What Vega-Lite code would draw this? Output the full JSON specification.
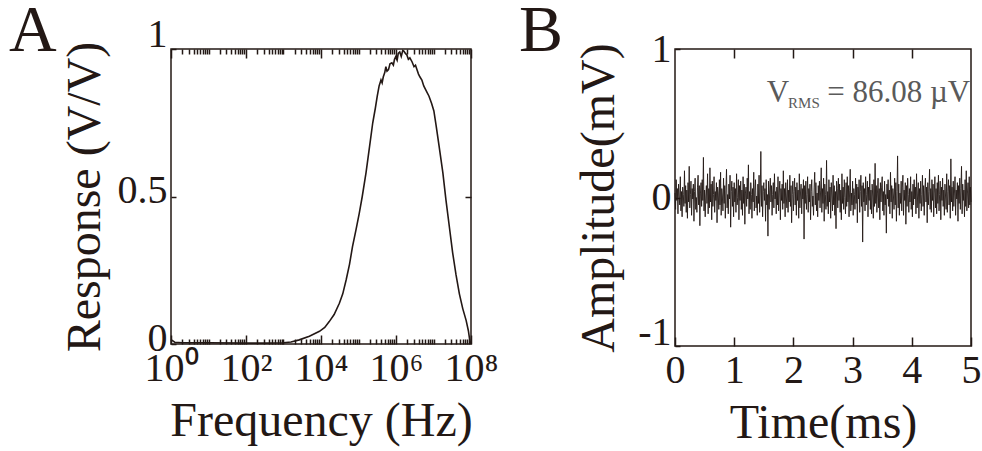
{
"$schema": "https://vega.github.io/schema/vega-lite/v6.json",
"padding": {"left": 8, "top": -3, "right": 0, "bottom": 0},
"background": "white",
"spacing": 19,
"config": {
  "font": "Liberation Serif",
  "view": {"stroke": "#231815", "strokeWidth": 1.5},
  "axis": {"domain": false, "grid": false, "labelFont": "Liberation Serif", "labelFontSize": 40, "labelColor": "#231815", "titleFont": "Liberation Serif", "titleFontSize": 48, "titleFontWeight": "normal", "titleColor": "#231815", "tickColor": "#231815", "tickWidth": 1.5, "labelFlush": false, "labelOverlap": false},
  "title": {"font": "Liberation Serif", "fontSize": 66, "fontWeight": "normal", "color": "#231815"}
},
"hconcat": [
{
  "width": 300, "height": 295,
  "title": {"text": "A", "anchor": "start", "frame": "group", "dx": -162, "offset": -103, "baseline": "alphabetic"},
  "data": {"values": [
    {"f":1,"r":0.015},{"f":1.259,"r":0.006},{"f":1.995,"r":0.004},{"f":10,"r":0.004},{"f":100,"r":0.003},{"f":316,"r":0.003},{"f":1000,"r":0.004},{"f":1585,"r":0.007},{"f":2630,"r":0.014},{"f":4898,"r":0.026},{"f":9120,"r":0.043},{"f":12589,"r":0.056},{"f":16596,"r":0.076},{"f":22387,"r":0.1},{"f":30903,"r":0.138},{"f":38019,"r":0.17},{"f":46774,"r":0.217},{"f":57544,"r":0.27},{"f":69183,"r":0.33},{"f":85114,"r":0.385},{"f":104713,"r":0.443},{"f":125893,"r":0.5},{"f":158489,"r":0.58},{"f":194984,"r":0.665},{"f":239883,"r":0.75},{"f":281838,"r":0.8},{"f":316228,"r":0.84},{"f":354813,"r":0.875},{"f":398107,"r":0.895},{"f":426580,"r":0.885},{"f":457088,"r":0.905},{"f":501187,"r":0.92},{"f":537032,"r":0.94},{"f":575440,"r":0.925},{"f":630957,"r":0.93},{"f":691831,"r":0.95},{"f":776247,"r":0.953},{"f":851138,"r":0.945},{"f":912011,"r":0.965},{"f":977237,"r":0.973},{"f":1071519,"r":0.962},{"f":1148154,"r":0.985},{"f":1258925,"r":0.99},{"f":1380384,"r":0.975},{"f":1513561,"r":0.995},{"f":1621810,"r":0.993},{"f":1778279,"r":0.985},{"f":1949845,"r":0.98},{"f":2137962,"r":0.965},{"f":2344229,"r":0.97},{"f":2691535,"r":0.956},{"f":3019952,"r":0.94},{"f":3311311,"r":0.945},{"f":3630781,"r":0.93},{"f":3981072,"r":0.915},{"f":4365158,"r":0.905},{"f":4897788,"r":0.895},{"f":5495409,"r":0.875},{"f":6309573,"r":0.86},{"f":7585776,"r":0.84},{"f":8912509,"r":0.815},{"f":10232930,"r":0.79},{"f":11748976,"r":0.74},{"f":14125375,"r":0.67},{"f":17782794,"r":0.58},{"f":21379621,"r":0.49},{"f":26302680,"r":0.4},{"f":32359366,"r":0.31},{"f":39810717,"r":0.235},{"f":48977882,"r":0.17},{"f":60255959,"r":0.12},{"f":74131024,"r":0.08},{"f":85113804,"r":0.045},{"f":93325430,"r":0.01},{"f":100000000,"r":0}
  ]},
  "resolve": {"axis": {"x": "independent", "y": "independent"}},
  "layer": [
    {"mark": {"type": "line", "color": "#231815", "strokeWidth": 1.6},
     "encoding": {
       "x": {"field": "f", "type": "quantitative", "scale": {"type": "log", "domain": [1, 100000000], "nice": false},
             "axis": {"orient": "bottom", "values": [1, 100, 10000, 1000000, 100000000], "tickSize": -9, "labelPadding": 13,
                      "labelExpr": "datum.value == 1 ? '10⁰' : datum.value == 100 ? '10²' : datum.value == 10000 ? '10⁴' : datum.value == 1000000 ? '10⁶' : '10⁸'",
                      "title": "Frequency (Hz)", "titlePadding": 9}},
       "y": {"field": "r", "type": "quantitative", "scale": {"domain": [0, 1], "nice": false},
             "axis": {"orient": "left", "values": [0, 0.5, 1], "labelExpr": "'' + datum.value", "tickSize": -5, "labelPadding": 9,
                      "labelOffset": {"condition": {"test": "datum.value == 1", "value": -15}, "value": -6},
                      "title": "Response (V/V)", "titlePadding": 8}}
     }},
    {"mark": {"type": "line", "opacity": 0},
     "encoding": {
       "x": {"field": "f", "type": "quantitative",
             "axis": {"orient": "bottom", "values": [2,3,4,5,6,7,8,9,10,20,30,40,50,60,70,80,90,200,300,400,500,600,700,800,900,1000,2000,3000,4000,5000,6000,7000,8000,9000,20000,30000,40000,50000,60000,70000,80000,90000,100000,200000,300000,400000,500000,600000,700000,800000,900000,2000000,3000000,4000000,5000000,6000000,7000000,8000000,9000000,10000000,20000000,30000000,40000000,50000000,60000000,70000000,80000000,90000000], "tickSize": -5, "labels": false, "title": null}},
       "y": {"field": "r", "type": "quantitative",
             "axis": {"orient": "right", "values": [0.5], "tickSize": -6, "labels": false, "title": null}}
     }},
    {"mark": {"type": "line", "opacity": 0},
     "encoding": {
       "x": {"field": "f", "type": "quantitative",
             "axis": {"orient": "top", "values": [1, 100, 10000, 1000000, 100000000], "tickSize": -9, "labels": false, "title": null}},
       "y": {"field": "r", "type": "quantitative", "axis": null}
     }},
    {"mark": {"type": "line", "opacity": 0},
     "encoding": {
       "x": {"field": "f", "type": "quantitative",
             "axis": {"orient": "top", "values": [2,3,4,5,6,7,8,9,10,20,30,40,50,60,70,80,90,200,300,400,500,600,700,800,900,1000,2000,3000,4000,5000,6000,7000,8000,9000,20000,30000,40000,50000,60000,70000,80000,90000,100000,200000,300000,400000,500000,600000,700000,800000,900000,2000000,3000000,4000000,5000000,6000000,7000000,8000000,9000000,10000000,20000000,30000000,40000000,50000000,60000000,70000000,80000000,90000000], "tickSize": -5, "labels": false, "title": null}},
       "y": {"field": "r", "type": "quantitative", "axis": null}
     }}
  ]
},
{
  "width": 296, "height": 297,
  "title": {"text": "B", "anchor": "start", "frame": "group", "dx": -156, "offset": -88, "baseline": "alphabetic"},
  "data": {"values": [
{"t":0,"v":0.03},{"t":0.01,"v":-0.08},{"t":0.02,"v":0.12},{"t":0.03,"v":-0.02},{"t":0.04,"v":0.06},{"t":0.05,"v":-0.11},{"t":0.06,"v":0.09},{"t":0.07,"v":0.01},{"t":0.08,"v":-0.05},{"t":0.09,"v":0.14},{"t":0.1,"v":-0.09},{"t":0.11,"v":0.04},{"t":0.12,"v":-0.13},{"t":0.13,"v":0.07},{"t":0.14,"v":0.02},{"t":0.15,"v":-0.06},{"t":0.16,"v":0.18},{"t":0.17,"v":-0.04},{"t":0.18,"v":0.08},{"t":0.19,"v":-0.1},
{"t":0.2,"v":0.05},{"t":0.21,"v":-0.14},{"t":0.22,"v":0.1},{"t":0.23,"v":-0.03},{"t":0.24,"v":0.21},{"t":0.25,"v":-0.07},{"t":0.26,"v":0.02},{"t":0.27,"v":0.11},{"t":0.28,"v":-0.12},{"t":0.29,"v":0.06},{"t":0.3,"v":-0.01},{"t":0.31,"v":0.09},{"t":0.32,"v":-0.16},{"t":0.33,"v":0.04},{"t":0.34,"v":0.13},{"t":0.35,"v":-0.08},{"t":0.36,"v":0},{"t":0.37,"v":-0.1},{"t":0.38,"v":0.07},{"t":0.39,"v":0.15},
{"t":0.4,"v":-0.05},{"t":0.41,"v":0.08},{"t":0.42,"v":-0.19},{"t":0.43,"v":0.03},{"t":0.44,"v":0.1},{"t":0.45,"v":-0.06},{"t":0.46,"v":0.12},{"t":0.47,"v":-0.02},{"t":0.48,"v":0.27},{"t":0.49,"v":-0.09},{"t":0.5,"v":0.05},{"t":0.51,"v":-0.13},{"t":0.52,"v":0.01},{"t":0.53,"v":0.08},{"t":0.54,"v":-0.04},{"t":0.55,"v":0.16},{"t":0.56,"v":-0.11},{"t":0.57,"v":0.06},{"t":0.58,"v":-0.07},{"t":0.59,"v":0.2},
{"t":0.6,"v":-0.03},{"t":0.61,"v":0.09},{"t":0.62,"v":-0.15},{"t":0.63,"v":0.11},{"t":0.64,"v":-0.06},{"t":0.65,"v":0.02},{"t":0.66,"v":0.14},{"t":0.67,"v":-0.1},{"t":0.68,"v":0.04},{"t":0.69,"v":-0.02},{"t":0.7,"v":0.1},{"t":0.71,"v":-0.17},{"t":0.72,"v":0.07},{"t":0.73,"v":0.03},{"t":0.74,"v":-0.08},{"t":0.75,"v":0.12},{"t":0.76,"v":-0.05},{"t":0.77,"v":0.17},{"t":0.78,"v":-0.12},{"t":0.79,"v":0.06},
{"t":0.8,"v":0.01},{"t":0.81,"v":-0.09},{"t":0.82,"v":0.13},{"t":0.83,"v":-0.04},{"t":0.84,"v":0.08},{"t":0.85,"v":-0.14},{"t":0.86,"v":0.05},{"t":0.87,"v":0.19},{"t":0.88,"v":-0.07},{"t":0.89,"v":0.02},{"t":0.9,"v":-0.11},{"t":0.91,"v":0.09},{"t":0.92,"v":-0.01},{"t":0.93,"v":0.15},{"t":0.94,"v":-0.2},{"t":0.95,"v":0.04},{"t":0.96,"v":0.11},{"t":0.97,"v":-0.06},{"t":0.98,"v":0.07},{"t":0.99,"v":-0.13},
{"t":1,"v":0.1},{"t":1.01,"v":-0.03},{"t":1.02,"v":0.06},{"t":1.03,"v":-0.1},{"t":1.04,"v":0.16},{"t":1.05,"v":-0.05},{"t":1.06,"v":0},{"t":1.07,"v":0.12},{"t":1.08,"v":-0.15},{"t":1.09,"v":0.08},{"t":1.1,"v":-0.02},{"t":1.11,"v":0.11},{"t":1.12,"v":-0.08},{"t":1.13,"v":0.05},{"t":1.14,"v":-0.12},{"t":1.15,"v":0.14},{"t":1.16,"v":-0.04},{"t":1.17,"v":0.09},{"t":1.18,"v":-0.18},{"t":1.19,"v":0.03},
{"t":1.2,"v":0.07},{"t":1.21,"v":-0.06},{"t":1.22,"v":0.13},{"t":1.23,"v":-0.01},{"t":1.24,"v":0.22},{"t":1.25,"v":-0.11},{"t":1.26,"v":0.04},{"t":1.27,"v":-0.08},{"t":1.28,"v":0.1},{"t":1.29,"v":0.02},{"t":1.3,"v":-0.14},{"t":1.31,"v":0.06},{"t":1.32,"v":-0.03},{"t":1.33,"v":0.17},{"t":1.34,"v":-0.09},{"t":1.35,"v":0.05},{"t":1.36,"v":0.12},{"t":1.37,"v":-0.07},{"t":1.38,"v":0.01},{"t":1.39,"v":-0.12},
{"t":1.4,"v":0.09},{"t":1.41,"v":-0.04},{"t":1.42,"v":0.15},{"t":1.43,"v":-0.1},{"t":1.44,"v":0.03},{"t":1.45,"v":0.31},{"t":1.46,"v":-0.06},{"t":1.47,"v":0.08},{"t":1.48,"v":-0.13},{"t":1.49,"v":0.04},{"t":1.5,"v":0.1},{"t":1.51,"v":-0.02},{"t":1.52,"v":0.06},{"t":1.53,"v":-0.16},{"t":1.54,"v":0.12},{"t":1.55,"v":-0.05},{"t":1.56,"v":0.02},{"t":1.57,"v":-0.26},{"t":1.58,"v":0.11},{"t":1.59,"v":-0.08},
{"t":1.6,"v":0.05},{"t":1.61,"v":0.13},{"t":1.62,"v":-0.03},{"t":1.63,"v":0.08},{"t":1.64,"v":-0.12},{"t":1.65,"v":0.02},{"t":1.66,"v":0.1},{"t":1.67,"v":-0.07},{"t":1.68,"v":0.16},{"t":1.69,"v":-0.01},{"t":1.7,"v":0.04},{"t":1.71,"v":-0.11},{"t":1.72,"v":0.07},{"t":1.73,"v":-0.05},{"t":1.74,"v":0.14},{"t":1.75,"v":-0.09},{"t":1.76,"v":0.03},{"t":1.77,"v":0.11},{"t":1.78,"v":-0.15},{"t":1.79,"v":0.06},
{"t":1.8,"v":-0.02},{"t":1.81,"v":0.09},{"t":1.82,"v":-0.08},{"t":1.83,"v":0.18},{"t":1.84,"v":-0.04},{"t":1.85,"v":0.06},{"t":1.86,"v":-0.13},{"t":1.87,"v":0.1},{"t":1.88,"v":0.01},{"t":1.89,"v":-0.07},{"t":1.9,"v":0.12},{"t":1.91,"v":-0.1},{"t":1.92,"v":0.05},{"t":1.93,"v":-0.03},{"t":1.94,"v":0.15},{"t":1.95,"v":-0.06},{"t":1.96,"v":0.08},{"t":1.97,"v":-0.17},{"t":1.98,"v":0.02},{"t":1.99,"v":0.11},
{"t":2,"v":-0.09},{"t":2.01,"v":0.04},{"t":2.02,"v":0.13},{"t":2.03,"v":-0.05},{"t":2.04,"v":0.07},{"t":2.05,"v":-0.12},{"t":2.06,"v":0.1},{"t":2.07,"v":-0.02},{"t":2.08,"v":0.05},{"t":2.09,"v":-0.14},{"t":2.1,"v":0.16},{"t":2.11,"v":-0.07},{"t":2.12,"v":0.03},{"t":2.13,"v":0.09},{"t":2.14,"v":-0.11},{"t":2.15,"v":0.06},{"t":2.16,"v":-0.01},{"t":2.17,"v":0.12},{"t":2.18,"v":-0.28},{"t":2.19,"v":0.08},
{"t":2.2,"v":-0.04},{"t":2.21,"v":0.11},{"t":2.22,"v":-0.08},{"t":2.23,"v":0.02},{"t":2.24,"v":0.14},{"t":2.25,"v":-0.1},{"t":2.26,"v":0.06},{"t":2.27,"v":-0.03},{"t":2.28,"v":0.09},{"t":2.29,"v":-0.15},{"t":2.3,"v":0.04},{"t":2.31,"v":0.12},{"t":2.32,"v":-0.06},{"t":2.33,"v":0.01},{"t":2.34,"v":-0.12},{"t":2.35,"v":0.07},{"t":2.36,"v":0.17},{"t":2.37,"v":-0.05},{"t":2.38,"v":0.1},{"t":2.39,"v":-0.09},
{"t":2.4,"v":0.03},{"t":2.41,"v":-0.13},{"t":2.42,"v":0.08},{"t":2.43,"v":-0.02},{"t":2.44,"v":0.11},{"t":2.45,"v":-0.07},{"t":2.46,"v":0.05},{"t":2.47,"v":0.2},{"t":2.48,"v":-0.1},{"t":2.49,"v":0.06},{"t":2.5,"v":-0.04},{"t":2.51,"v":0.13},{"t":2.52,"v":-0.16},{"t":2.53,"v":0.09},{"t":2.54,"v":0.02},{"t":2.55,"v":-0.08},{"t":2.56,"v":0.25},{"t":2.57,"v":-0.06},{"t":2.58,"v":0.04},{"t":2.59,"v":-0.11},
{"t":2.6,"v":0.12},{"t":2.61,"v":-0.03},{"t":2.62,"v":0.07},{"t":2.63,"v":-0.14},{"t":2.64,"v":0.1},{"t":2.65,"v":0.01},{"t":2.66,"v":-0.09},{"t":2.67,"v":0.15},{"t":2.68,"v":-0.05},{"t":2.69,"v":0.08},{"t":2.7,"v":-0.12},{"t":2.71,"v":0.04},{"t":2.72,"v":-0.21},{"t":2.73,"v":0.11},{"t":2.74,"v":0.06},{"t":2.75,"v":-0.07},{"t":2.76,"v":0.13},{"t":2.77,"v":-0.02},{"t":2.78,"v":0.09},{"t":2.79,"v":-0.1},
{"t":2.8,"v":0.05},{"t":2.81,"v":-0.15},{"t":2.82,"v":0.16},{"t":2.83,"v":-0.04},{"t":2.84,"v":0.07},{"t":2.85,"v":-0.08},{"t":2.86,"v":0.12},{"t":2.87,"v":0},{"t":2.88,"v":-0.11},{"t":2.89,"v":0.1},{"t":2.9,"v":-0.06},{"t":2.91,"v":0.14},{"t":2.92,"v":-0.03},{"t":2.93,"v":0.08},{"t":2.94,"v":-0.13},{"t":2.95,"v":0.05},{"t":2.96,"v":0.19},{"t":2.97,"v":-0.09},{"t":2.98,"v":0.03},{"t":2.99,"v":-0.05},
{"t":3,"v":0.11},{"t":3.01,"v":-0.12},{"t":3.02,"v":0.06},{"t":3.03,"v":0.02},{"t":3.04,"v":-0.08},{"t":3.05,"v":0.13},{"t":3.06,"v":-0.04},{"t":3.07,"v":0.09},{"t":3.08,"v":-0.17},{"t":3.09,"v":0.07},{"t":3.1,"v":-0.01},{"t":3.11,"v":0.12},{"t":3.12,"v":-0.1},{"t":3.13,"v":0.04},{"t":3.14,"v":0.15},{"t":3.15,"v":-0.06},{"t":3.16,"v":0.08},{"t":3.17,"v":-0.3},{"t":3.18,"v":0.1},{"t":3.19,"v":-0.03},
{"t":3.2,"v":0.06},{"t":3.21,"v":-0.09},{"t":3.22,"v":0.14},{"t":3.23,"v":-0.05},{"t":3.24,"v":0.02},{"t":3.25,"v":0.11},{"t":3.26,"v":-0.13},{"t":3.27,"v":0.07},{"t":3.28,"v":-0.02},{"t":3.29,"v":0.16},{"t":3.3,"v":-0.08},{"t":3.31,"v":0.05},{"t":3.32,"v":-0.11},{"t":3.33,"v":0.09},{"t":3.34,"v":0.01},{"t":3.35,"v":-0.14},{"t":3.36,"v":0.12},{"t":3.37,"v":-0.06},{"t":3.38,"v":0.23},{"t":3.39,"v":-0.04},
{"t":3.4,"v":0.08},{"t":3.41,"v":-0.1},{"t":3.42,"v":0.03},{"t":3.43,"v":0.13},{"t":3.44,"v":-0.07},{"t":3.45,"v":0.06},{"t":3.46,"v":-0.15},{"t":3.47,"v":0.1},{"t":3.48,"v":-0.03},{"t":3.49,"v":0.07},{"t":3.5,"v":0.14},{"t":3.51,"v":-0.09},{"t":3.52,"v":0.04},{"t":3.53,"v":-0.12},{"t":3.54,"v":0.11},{"t":3.55,"v":-0.05},{"t":3.56,"v":0.02},{"t":3.57,"v":-0.24},{"t":3.58,"v":0.09},{"t":3.59,"v":-0.01},
{"t":3.6,"v":0.12},{"t":3.61,"v":-0.06},{"t":3.62,"v":0.05},{"t":3.63,"v":-0.11},{"t":3.64,"v":0.17},{"t":3.65,"v":-0.03},{"t":3.66,"v":0.08},{"t":3.67,"v":-0.14},{"t":3.68,"v":0.06},{"t":3.69,"v":0.01},{"t":3.7,"v":-0.08},{"t":3.71,"v":0.13},{"t":3.72,"v":-0.05},{"t":3.73,"v":0.1},{"t":3.74,"v":-0.16},{"t":3.75,"v":0.04},{"t":3.76,"v":0.28},{"t":3.77,"v":-0.07},{"t":3.78,"v":0.09},{"t":3.79,"v":-0.12},
{"t":3.8,"v":0.03},{"t":3.81,"v":-0.04},{"t":3.82,"v":0.11},{"t":3.83,"v":-0.09},{"t":3.84,"v":0.07},{"t":3.85,"v":0.15},{"t":3.86,"v":-0.12},{"t":3.87,"v":0.05},{"t":3.88,"v":-0.02},{"t":3.89,"v":0.1},{"t":3.9,"v":-0.18},{"t":3.91,"v":0.08},{"t":3.92,"v":-0.06},{"t":3.93,"v":0.13},{"t":3.94,"v":0.02},{"t":3.95,"v":-0.1},{"t":3.96,"v":0.06},{"t":3.97,"v":-0.03},{"t":3.98,"v":0.14},{"t":3.99,"v":-0.08},
{"t":4,"v":0.04},{"t":4.01,"v":-0.13},{"t":4.02,"v":0.09},{"t":4.03,"v":-0.05},{"t":4.04,"v":0.12},{"t":4.05,"v":-0.01},{"t":4.06,"v":0.07},{"t":4.07,"v":-0.11},{"t":4.08,"v":0.16},{"t":4.09,"v":-0.07},{"t":4.1,"v":0.03},{"t":4.11,"v":0.1},{"t":4.12,"v":-0.14},{"t":4.13,"v":0.06},{"t":4.14,"v":-0.04},{"t":4.15,"v":0.11},{"t":4.16,"v":-0.09},{"t":4.17,"v":0.02},{"t":4.18,"v":0.15},{"t":4.19,"v":-0.06},
{"t":4.2,"v":0.08},{"t":4.21,"v":-0.12},{"t":4.22,"v":0.05},{"t":4.23,"v":0.13},{"t":4.24,"v":-0.03},{"t":4.25,"v":0.07},{"t":4.26,"v":-0.17},{"t":4.27,"v":0.1},{"t":4.28,"v":-0.05},{"t":4.29,"v":0.04},{"t":4.3,"v":0.19},{"t":4.31,"v":-0.08},{"t":4.32,"v":0.06},{"t":4.33,"v":-0.1},{"t":4.34,"v":0.12},{"t":4.35,"v":-0.02},{"t":4.36,"v":0.09},{"t":4.37,"v":-0.13},{"t":4.38,"v":0.03},{"t":4.39,"v":0.14},
{"t":4.4,"v":-0.07},{"t":4.41,"v":0.06},{"t":4.42,"v":-0.11},{"t":4.43,"v":0.1},{"t":4.44,"v":-0.04},{"t":4.45,"v":0.15},{"t":4.46,"v":-0.09},{"t":4.47,"v":0.02},{"t":4.48,"v":0.11},{"t":4.49,"v":-0.15},{"t":4.5,"v":0.07},{"t":4.51,"v":-0.02},{"t":4.52,"v":0.13},{"t":4.53,"v":-0.06},{"t":4.54,"v":0.05},{"t":4.55,"v":-0.12},{"t":4.56,"v":0.09},{"t":4.57,"v":0.01},{"t":4.58,"v":-0.08},{"t":4.59,"v":0.16},
{"t":4.6,"v":-0.1},{"t":4.61,"v":0.04},{"t":4.62,"v":0.12},{"t":4.63,"v":-0.05},{"t":4.64,"v":0.08},{"t":4.65,"v":-0.14},{"t":4.66,"v":0.26},{"t":4.67,"v":-0.03},{"t":4.68,"v":0.07},{"t":4.69,"v":-0.09},{"t":4.7,"v":0.11},{"t":4.71,"v":-0.06},{"t":4.72,"v":0.03},{"t":4.73,"v":0.14},{"t":4.74,"v":-0.12},{"t":4.75,"v":0.05},{"t":4.76,"v":-0.01},{"t":4.77,"v":0.1},{"t":4.78,"v":-0.16},{"t":4.79,"v":0.08},
{"t":4.8,"v":-0.04},{"t":4.81,"v":0.13},{"t":4.82,"v":-0.08},{"t":4.83,"v":0.06},{"t":4.84,"v":0.21},{"t":4.85,"v":-0.11},{"t":4.86,"v":0.09},{"t":4.87,"v":-0.02},{"t":4.88,"v":0.05},{"t":4.89,"v":-0.13},{"t":4.9,"v":0.12},{"t":4.91,"v":-0.06},{"t":4.92,"v":0.18},{"t":4.93,"v":-0.09},{"t":4.94,"v":0.03},{"t":4.95,"v":0.1},{"t":4.96,"v":-0.07},{"t":4.97,"v":0.14},{"t":4.98,"v":-0.05},{"t":4.99,"v":0.07},
{"t":5,"v":-0.03}
  ]},
  "resolve": {"axis": {"x": "independent", "y": "independent"}},
  "layer": [
    {"mark": {"type": "line", "color": "#231815", "strokeWidth": 0.9},
     "encoding": {
       "x": {"field": "t", "type": "quantitative", "scale": {"domain": [0, 5], "nice": false},
             "axis": {"orient": "bottom", "values": [0, 1, 2, 3, 4, 5], "labelExpr": "'' + datum.value", "tickSize": -9, "labelPadding": 13, "title": "Time(ms)", "titlePadding": 9}},
       "y": {"field": "v", "type": "quantitative", "scale": {"domain": [-1, 1], "nice": false},
             "axis": {"orient": "left", "values": [-1, 0, 1], "labelExpr": "'' + datum.value", "tickSize": -5, "labelPadding": 9,
                      "labelOffset": {"condition": {"test": "datum.value == -1", "value": -14}, "value": 0},
                      "title": "Amplitude(mV)", "titlePadding": 14}}
     }},
    {"mark": {"type": "line", "opacity": 0},
     "encoding": {
       "x": {"field": "t", "type": "quantitative",
             "axis": {"orient": "top", "values": [1, 2, 3, 4], "tickSize": -9, "labels": false, "title": null}},
       "y": {"field": "v", "type": "quantitative", "axis": null}
     }},
    {"data": {"values": [{"t": 1.55, "v": 0.64, "label": "V"}, {"t": 2.57, "v": 0.64, "label": "= 86.08 µV"}]},
     "mark": {"type": "text", "align": "left", "baseline": "alphabetic", "font": "Liberation Serif", "fontSize": 31, "color": "#5a5a5a"},
     "encoding": {
       "x": {"field": "t", "type": "quantitative", "axis": null},
       "y": {"field": "v", "type": "quantitative", "axis": null},
       "text": {"field": "label"}
     }},
    {"data": {"values": [{"t": 1.91, "v": 0.6, "label": "RMS"}]},
     "mark": {"type": "text", "align": "left", "baseline": "alphabetic", "font": "Liberation Serif", "fontSize": 15, "color": "#5a5a5a"},
     "encoding": {
       "x": {"field": "t", "type": "quantitative", "axis": null},
       "y": {"field": "v", "type": "quantitative", "axis": null},
       "text": {"field": "label"}
     }}
  ]
}
]
}
